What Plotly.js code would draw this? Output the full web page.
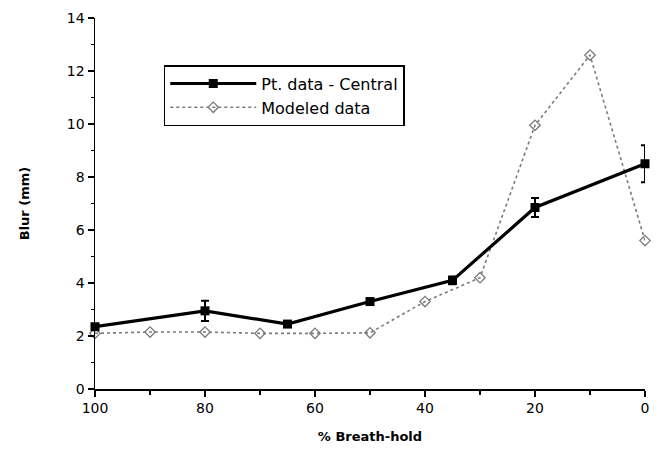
<!DOCTYPE html>
<html><head><meta charset="utf-8">
<script src="https://cdn.plot.ly/plotly-3.0.1.min.js"></script>
<style>body{margin:0;background:#fff}#chart{width:660px;height:456px}</style>
</head><body><div id="chart"></div>
<script>
const ptX = [100, 80, 65, 50, 35, 20, 0];
const ptY = [2.35, 2.95, 2.45, 3.3, 4.1, 6.85, 8.5];
const ptErr = [0.1, 0.38, 0, 0, 0.15, 0.36, 0.7];
const modX = [100, 90, 80, 70, 60, 50, 40, 30, 20, 10, 0];
const modY = [2.1, 2.15, 2.15, 2.1, 2.1, 2.12, 3.3, 4.2, 9.95, 12.6, 5.6];
const xTicks = [100, 80, 60, 40, 20, 0];
const yTicks = [0, 2, 4, 6, 8, 10, 12, 14];
const seriesNames = ['Pt. data - Central', 'Modeled data'];
const xTitle = '% Breath-hold';
const yTitle = 'Blur (mm)';

const font = 'DejaVu Sans, Verdana, sans-serif';

const traces = [
  {
    x: modX, y: modY, name: seriesNames[1], type: 'scatter', mode: 'lines+markers',
    cliponaxis: false,
    line: {color: '#7a7a7a', width: 1.6, dash: 'dot'},
    marker: {symbol: 'diamond-open', size: 8, color: '#7a7a7a', line: {width: 1.3}}
  },
  {
    x: ptX, y: ptY, name: seriesNames[0], type: 'scatter', mode: 'lines+markers',
    cliponaxis: false,
    line: {color: '#000', width: 3.2},
    marker: {symbol: 'square', size: 9, color: '#000'},
    error_y: {type: 'data', array: ptErr, visible: true, color: '#000', thickness: 2, width: 4}
  }
];

const layout = {
  width: 660, height: 456,
  margin: {l: 95, r: 15, t: 18, b: 67},
  paper_bgcolor: '#fff', plot_bgcolor: '#fff',
  font: {family: font, size: 14, color: '#000'},
  showlegend: true,
  legend: {
    x: 0.125, y: 0.873, xanchor: 'left', yanchor: 'top',
    traceorder: 'reversed',
    bordercolor: '#000', borderwidth: 1.5, bgcolor: '#fff',
    font: {family: font, size: 16, color: '#000'},
    itemwidth: 86, tracegroupgap: 0
  },
  xaxis: {
    range: [100, 0], tickvals: xTicks, ticktext: xTicks.map(String),
    showgrid: false, zeroline: false, showline: true, linecolor: '#000', linewidth: 1.5,
    ticks: 'outside', ticklen: 6, tickwidth: 1.5, tickcolor: '#000',
    minor: {dtick: 10, ticks: 'outside', ticklen: 4, tickwidth: 1.5, tickcolor: '#000'},
    tickfont: {family: font, size: 14},
    title: {text: '<b>' + xTitle + '</b>', font: {family: font, size: 13}, standoff: 16}
  },
  yaxis: {
    range: [0, 14], tickvals: yTicks, ticktext: yTicks.map(String),
    showgrid: false, zeroline: false, showline: true, linecolor: '#000', linewidth: 1.5,
    ticks: 'outside', ticklen: 6, tickwidth: 1.5, tickcolor: '#000',
    minor: {dtick: 1, ticks: 'outside', ticklen: 3, tickwidth: 1.5, tickcolor: '#000'},
    tickfont: {family: font, size: 14},
    title: {text: '<b>' + yTitle + '</b>', font: {family: font, size: 13}, standoff: 34}
  }
};

Plotly.newPlot('chart', traces, layout, {displayModeBar: false, staticPlot: true});
</script>
</body></html>
